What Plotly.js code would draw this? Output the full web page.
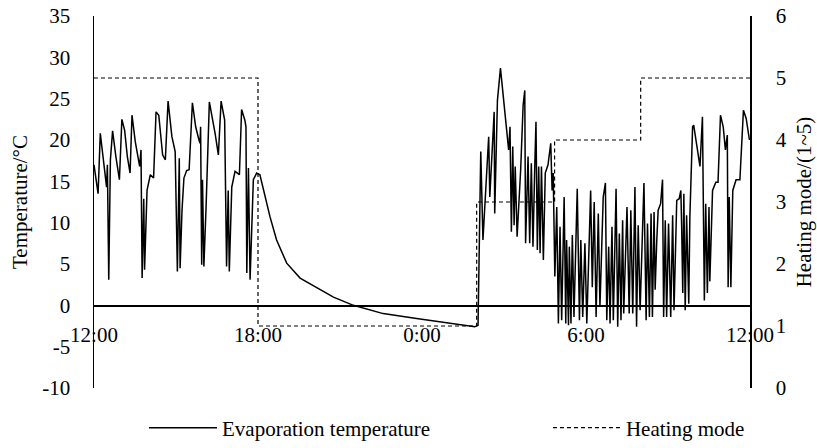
<!DOCTYPE html>
<html>
<head>
<meta charset="utf-8">
<script src="https://cdn.plot.ly/plotly-3.0.1.min.js"></script>
<style>
html,body{margin:0;padding:0;background:#fff;}
#chart{width:817px;height:448px;}
</style>
</head>
<body>
<div id="chart"></div>
<script>
// hours elapsed since 12:00
var evapHours = [0.00,0.15,0.23,0.41,0.46,0.49,0.54,0.60,0.68,0.80,0.93,1.02,1.12,1.22,1.32,1.39,1.51,1.67,1.72,1.76,1.82,1.85,1.94,2.06,2.18,2.27,2.37,2.51,2.61,2.71,2.85,2.97,3.05,3.12,3.15,3.22,3.29,3.39,3.48,3.60,3.72,3.84,3.88,3.90,3.94,3.97,4.02,4.10,4.22,4.43,4.55,4.65,4.73,4.78,4.85,4.91,4.95,5.04,5.16,5.32,5.40,5.52,5.56,5.59,5.65,5.71,5.83,5.95,6.07,6.20,6.44,6.68,7.05,7.54,8.15,8.76,9.49,10.58,11.80,13.03,13.93,14.05,14.11,14.15,14.23,14.29,14.38,14.44,14.48,14.56,14.64,14.66,14.76,14.87,15.00,15.17,15.22,15.27,15.32,15.37,15.41,15.48,15.61,15.70,15.76,15.79,15.88,15.94,16.00,16.06,16.12,16.17,16.22,16.27,16.32,16.37,16.44,16.51,16.61,16.71,16.76,16.80,16.86,16.93,16.99,17.05,17.11,17.20,17.26,17.29,17.36,17.39,17.45,17.50,17.56,17.68,17.76,17.81,17.88,17.96,18.03,18.17,18.23,18.30,18.37,18.45,18.51,18.63,18.71,18.76,18.83,18.88,18.95,19.00,19.10,19.16,19.22,19.28,19.34,19.38,19.50,19.58,19.64,19.71,19.79,19.85,19.91,19.98,20.12,20.20,20.25,20.32,20.38,20.43,20.49,20.53,20.59,20.64,20.73,20.80,20.84,20.90,20.95,21.02,21.10,21.17,21.22,21.32,21.41,21.47,21.50,21.54,21.58,21.63,21.68,21.76,21.80,21.90,21.94,22.05,22.17,22.26,22.33,22.38,22.44,22.50,22.53,22.63,22.75,22.83,22.92,23.02,23.10,23.17,23.20,23.24,23.30,23.37,23.49,23.63,23.76,23.86,23.98];
var evapTemp = [17.0,13.5,20.8,16.0,14.3,17.0,3.1,17.6,21.1,18.0,15.2,22.5,21.2,18.0,16.0,23.0,19.8,16.8,18.8,3.3,12.9,4.3,13.9,15.8,15.4,23.4,23.0,18.2,17.6,24.7,20.4,18.6,4.1,17.8,4.5,11.5,15.4,16.3,16.4,24.5,21.6,20.0,19.6,21.6,4.9,15.2,4.7,11.9,24.6,20.8,18.2,24.7,23.2,22.4,4.7,13.9,4.1,14.3,16.2,15.8,23.7,22.4,21.6,3.9,16.6,3.1,15.2,16.0,15.8,13.9,10.7,7.9,5.1,3.3,2.1,1.0,0.0,-1.0,-1.6,-2.2,-2.6,-2.4,11.9,18.6,7.9,11.9,17.2,20.4,13.1,18.8,23.4,11.1,24.8,28.7,24.0,18.8,21.6,8.9,19.2,9.7,16.8,8.3,16.4,24.2,26.0,7.5,18.0,7.5,17.2,7.1,16.0,22.2,6.7,16.8,6.3,16.8,5.5,16.0,17.0,19.6,13.9,16.0,3.5,11.9,-2.2,9.5,-1.8,13.1,-2.2,7.9,-2.4,7.1,-2.2,8.5,-1.4,14.1,-1.8,7.9,-1.4,7.5,-2.2,13.9,2.2,12.5,-1.4,11.1,-0.2,13.1,14.8,-1.8,7.1,-2.2,9.5,-1.8,14.1,-2.6,8.7,-1.8,10.3,-1.0,11.9,-1.0,11.5,-1.0,14.3,-2.6,9.7,-0.6,14.8,-1.8,9.9,-1.4,11.1,-1.4,11.3,1.9,7.9,11.5,12.3,15.2,-1.4,10.3,-1.4,9.9,-1.4,10.9,-0.6,12.7,12.9,13.9,9.5,1.5,13.5,-0.6,10.9,0.2,10.7,21.6,21.8,19.2,16.8,22.8,0.6,12.3,1.5,11.9,2.9,13.9,14.9,14.9,23.0,21.6,18.8,20.6,2.2,13.1,2.2,13.9,15.2,15.2,23.6,22.6,20.0];

var modeHours = [0, 6, 14, 16.85, 20, 24];
var modeValues = [5, 1, 3, 4, 5, 5];

var tickHours = [0, 6, 12, 18, 24];
var tickLabels = ['12:00', '18:00', '0:00', '6:00', '12:00'];
var tempTicks = [-10, -5, 0, 5, 10, 15, 20, 25, 30, 35];
var tempTickLabels = ['-10', '-5', '0', '5', '10', '15', '20', '25', '30', '35'];
var modeTicks = [0, 1, 2, 3, 4, 5, 6];

function serif(size) { return {family: 'Liberation Serif, serif', size: size, color: '#000'}; }

var traces = [
  {x: evapHours, y: evapTemp, type: 'scatter', mode: 'lines', name: 'Evaporation temperature',
   line: {color: '#000', width: 1.5}, yaxis: 'y', legend: 'legend'},
  {x: modeHours, y: modeValues, type: 'scatter', mode: 'lines', name: 'Heating mode',
   line: {color: '#000', width: 1.2, dash: '4px,3px', shape: 'hv'}, yaxis: 'y2', legend: 'legend2'}
];

var layout = {
  width: 817, height: 448,
  margin: {l: 94, r: 67, t: 16, b: 60},
  paper_bgcolor: '#fff', plot_bgcolor: '#fff',
  font: serif(21),
  showlegend: true,
  legend: {orientation: 'h', x: 0.0762, xanchor: 'left', yref: 'container', y: 0.0446, yanchor: 'middle',
           itemwidth: 68, font: serif(21), bgcolor: 'rgba(0,0,0,0)'},
  legend2: {orientation: 'h', x: 0.692, xanchor: 'left', yref: 'container', y: 0.0446, yanchor: 'middle',
           itemwidth: 68, font: serif(21), bgcolor: 'rgba(0,0,0,0)'},
  xaxis: {range: [0, 24], tickvals: tickHours, ticktext: tickLabels,
          anchor: 'free', position: 10/45, showline: true, linecolor: '#000', linewidth: 1.5,
          showgrid: false, zeroline: false, ticks: '', ticklabelstandoff: 10,
          tickfont: serif(21)},
  yaxis: {range: [-10, 35], tickvals: tempTicks, ticktext: tempTickLabels, showline: true,
          linecolor: '#000', linewidth: 1.5,
          showgrid: false, zeroline: false, ticks: '', ticklabelstandoff: 18,
          tickfont: serif(21),
          title: {text: 'Temperature/°C', font: serif(21), standoff: 9}},
  yaxis2: {range: [0, 6], tickvals: modeTicks, overlaying: 'y', side: 'right', showline: true,
           linecolor: '#000', linewidth: 1.5, showgrid: false, zeroline: false, ticks: '',
           ticklabelstandoff: 20, tickfont: serif(21),
           title: {text: 'Heating mode/(1~5)', font: serif(21), standoff: 10}}
};

Plotly.newPlot('chart', traces, layout, {displayModeBar: false, staticPlot: true});
</script>
</body>
</html>
